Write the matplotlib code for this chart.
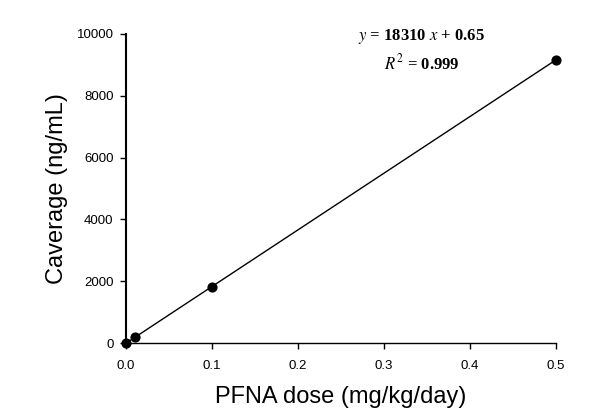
import matplotlib
matplotlib.use('Agg')
import matplotlib.pyplot as plt
import numpy as np

plt.rcParams['font.family'] = ['Liberation Sans', 'DejaVu Sans']
plt.rcParams['mathtext.fontset'] = 'stix'

# data
dose = [0.0, 0.01, 0.1, 0.5]
caverage = [0, 190, 1830, 9150]
slope = 18310
intercept = 0.65
r2 = 0.999
xticks = [0.0, 0.1, 0.2, 0.3, 0.4, 0.5]
yticks = [0, 2000, 4000, 6000, 8000, 10000]

fig = plt.figure(figsize=(6.12, 4.19), dpi=100)
ax = fig.add_axes([0.206, 0.181, 0.702, 0.738])

xfit = np.array([dose[0], dose[-1]])
ax.plot(xfit, slope * xfit + intercept, color='black', lw=1.0, zorder=2)
ax.scatter(dose, caverage, s=40, color='black', zorder=3, clip_on=False)

ax.set_xlim(0, 0.5)
ax.set_ylim(0, 10000)
ax.set_xticks(xticks)
ax.set_xticklabels(['%.1f' % t for t in xticks])
ax.set_yticks(yticks)
ax.tick_params(labelsize=9.5, direction='out', length=4, width=1, pad=5)
ax.tick_params(axis='x', pad=8)

for s in ['top', 'right']:
    ax.spines[s].set_visible(False)
ax.spines['left'].set_linewidth(1.5)
ax.spines['bottom'].set_linewidth(1.0)

ax.set_xlabel('PFNA dose (mg/kg/day)', fontsize=17, labelpad=10)
ax.set_ylabel('Caverage (ng/mL)', fontsize=17, labelpad=6)

ax.text(0.344, 9920, r'$y$ = 18310 $x$ + 0.65', fontsize=12, ha='center', va='center',
        family=['Liberation Serif'], fontweight='bold')
ax.text(0.344, 9050, r'$R^2$ = %.3f' % r2, fontsize=12, ha='center', va='center',
        family=['Liberation Serif'], fontweight='bold')

fig.savefig('out.png', dpi=100)
